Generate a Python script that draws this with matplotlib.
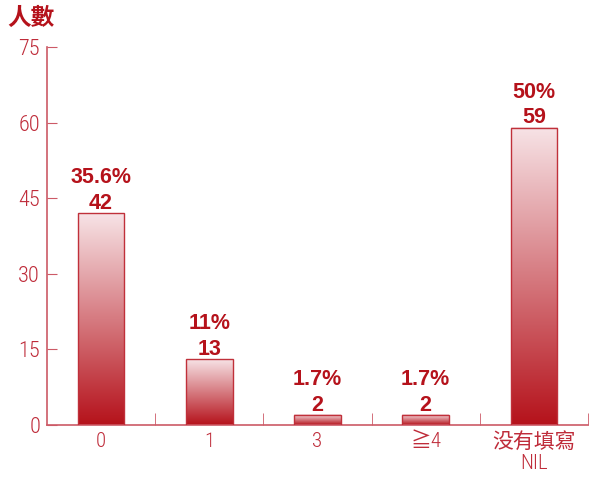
import matplotlib
matplotlib.use("Agg")
import matplotlib.pyplot as plt
import numpy as np
from matplotlib.colors import LinearSegmentedColormap
from matplotlib import font_manager

categories = ["0", "1", "3", "≧4", "没有填寫\nNIL"]
counts = [42, 13, 2, 2, 59]
percents = ["35.6%", "11%", "1.7%", "1.7%", "50%"]
yticks = [0, 15, 30, 45, 60, 75]

RED = "#b5121b"
TICKC = "#bf2c3a"
AXC = "#cc5a66"
names = {f.name for f in font_manager.fontManager.ttflist}
first = "Roboto Condensed" if "Roboto Condensed" in names else "Roboto"
fam = [first, "Noto Sans CJK TC", "DejaVu Sans"]

fig = plt.figure(figsize=(5.9, 4.82), dpi=100)
ax = fig.add_axes([47/590, 1-425/482, (588-47)/590, (425-47)/482])

cmap = LinearSegmentedColormap.from_list("g", ["#b5121b", "#f7e3e6"])
grad = np.linspace(0, 1, 256).reshape(-1, 1)
w = 0.43
for i, (c, p) in enumerate(zip(counts, percents)):
    ax.imshow(grad, extent=(i - w/2, i + w/2, 0, c), origin="lower",
              cmap=cmap, aspect="auto", zorder=2)
    ax.bar(i, c, width=w, facecolor="none", edgecolor="#c0303a", linewidth=1.0, zorder=3)
    ax.annotate(str(c), (i, c), xytext=(0, -0.5), textcoords="offset points",
                ha="center", va="bottom", fontsize=15.5, fontweight="bold",
                color=RED, family="Liberation Sans")
    ax.annotate(p, (i, c), xytext=(0, 18), textcoords="offset points",
                ha="center", va="bottom", fontsize=15.5, fontweight="bold",
                color=RED, family="Liberation Sans")
ax.set_xlim(-0.5, 4.5)
ax.set_ylim(0, 75)

for s in ["top", "right"]:
    ax.spines[s].set_visible(False)
for s in ["left", "bottom"]:
    ax.spines[s].set_color(AXC)
    ax.spines[s].set_linewidth(1.2)

ax.set_yticks(yticks)
ax.set_yticklabels([str(v) for v in yticks], family=fam, fontweight="light",
                   fontsize=16, color=TICKC)
ax.tick_params(axis="y", direction="in", length=7, color=AXC, pad=5)

ax.set_xticks(range(len(categories)))
ax.set_xticklabels(categories, family=fam, fontweight="light", fontsize=15,
                   color=TICKC, linespacing=1.15)
ax.tick_params(axis="x", length=0, pad=5)
ax.set_xticks(np.arange(0.5, 5.0, 1.0), minor=True)
ax.tick_params(axis="x", which="minor", direction="in", length=9, color=AXC)

fig.text(7/590, 1-18/482, "人數", family=["Noto Sans CJK TC"], fontsize=17,
         color=RED, va="center", ha="left", fontweight="bold")

fig.savefig("out.png", dpi=100)
